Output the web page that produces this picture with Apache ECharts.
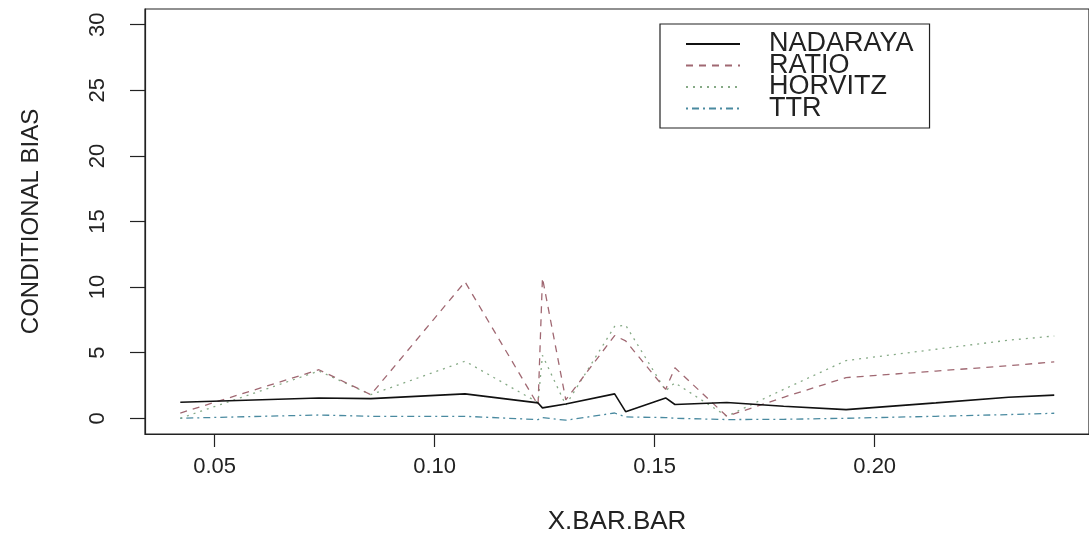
<!DOCTYPE html>
<html>
<head>
<meta charset="utf-8">
<script src="https://cdn.jsdelivr.net/npm/echarts@6/dist/echarts.min.js"></script>
<style>
html,body{margin:0;padding:0;background:#fff;}
#c{width:1089px;height:550px;}
</style>
</head>
<body>
<div id="c"></div>
<script>
// X.BAR.BAR values (shared by all series)
const xValues = [0.0422, 0.0737, 0.0855, 0.1069, 0.1235, 0.1245, 0.1298, 0.1409, 0.1434, 0.1525, 0.1546, 0.1664, 0.1793, 0.1935, 0.2139, 0.2304, 0.2408];
const nadaraya = [1.22, 1.55, 1.5, 1.86, 1.17, 0.79, 1.09, 1.86, 0.5, 1.55, 1.05, 1.2, 0.92, 0.66, 1.17, 1.6, 1.76];
const ratio    = [0.4, 3.7, 1.8, 10.4, 1.0, 10.7, 1.4, 6.3, 5.9, 2.2, 3.85, 0.15, 1.6, 3.1, 3.6, 4.0, 4.3];
const horvitz  = [0.0, 3.6, 1.8, 4.35, 1.2, 4.8, 1.0, 7.0, 7.1, 2.1, 2.7, 0.15, 2.2, 4.4, 5.26, 5.95, 6.27];
const ttr      = [0.0, 0.25, 0.15, 0.15, -0.1, 0.05, -0.15, 0.4, 0.1, 0.05, 0.0, -0.1, -0.08, 0.0, 0.15, 0.28, 0.38];

const seriesNames = ['NADARAYA', 'RATIO', 'HORVITZ', 'TTR'];
const xTicks = [0.05, 0.10, 0.15, 0.20];
const yTicks = [0, 5, 10, 15, 20, 25, 30];

const pair = (ys) => xValues.map((x, i) => [x, ys[i]]);

const styles = [
  {color: '#111111', width: 1.6, type: 'solid'},
  {color: '#a06872', width: 1.3, type: [7, 6]},
  {color: '#86aa86', width: 1.3, type: [2, 5]},
  {color: '#4a8aa0', width: 1.3, type: [2, 4, 7, 4]}
];
const dataSets = [nadaraya, ratio, horvitz, ttr];

const font = 'Liberation Sans, Arial, sans-serif';
const chart = echarts.init(document.getElementById('c'), null, {renderer: 'canvas'});
chart.setOption({
  backgroundColor: '#ffffff',
  animation: false,
  grid: {left: 145, top: 9, width: 949, height: 425, show: true, borderColor: '#222', borderWidth: 1.2, backgroundColor: 'transparent'},
  xAxis: {
    type: 'value', min: 0.03418, max: 0.2487,
    name: 'X.BAR.BAR', nameLocation: 'middle', nameGap: 75,
    nameTextStyle: {fontFamily: font, fontSize: 26, color: '#222'},
    axisLine: {show: true, onZero: false, lineStyle: {color: '#222', width: 1.2}},
    axisTick: {show: true, length: 13, customValues: xTicks, lineStyle: {color: '#222', width: 1.2}},
    axisLabel: {customValues: xTicks, margin: 22, fontFamily: font, fontSize: 22, color: '#222',
      formatter: (v) => v.toFixed(2)},
    splitLine: {show: false}
  },
  yAxis: {
    type: 'value', min: -1.2, max: 31.2,
    name: 'CONDITIONAL BIAS', nameLocation: 'middle', nameGap: 102, nameRotate: 90,
    nameTextStyle: {fontFamily: font, fontSize: 24, color: '#222'},
    axisLine: {show: true, onZero: false, lineStyle: {color: '#222', width: 1.2}},
    axisTick: {show: true, length: 15, customValues: yTicks, lineStyle: {color: '#222', width: 1.2}},
    axisLabel: {customValues: yTicks, margin: 36, rotate: 90, fontFamily: font, fontSize: 22, color: '#222'},
    splitLine: {show: false}
  },
  legend: {
    orient: 'vertical', left: 660, top: 24,
    padding: [6.5, 16, 6, 25],
    borderColor: '#222', borderWidth: 1.2,
    itemWidth: 54, itemHeight: 14, itemGap: -5.5,
    itemStyle: {opacity: 0, borderWidth: 0},
    textStyle: {fontFamily: font, fontSize: 27, color: '#222', lineHeight: 21.5, padding: [0, 0, 0, 24]},
    data: seriesNames
  },
  series: seriesNames.map((n, i) => ({
    name: n, type: 'line', symbol: 'none', data: pair(dataSets[i]),
    lineStyle: styles[i], itemStyle: {color: styles[i].color},
    z: 4 - i
  }))
});
</script>
</body>
</html>
